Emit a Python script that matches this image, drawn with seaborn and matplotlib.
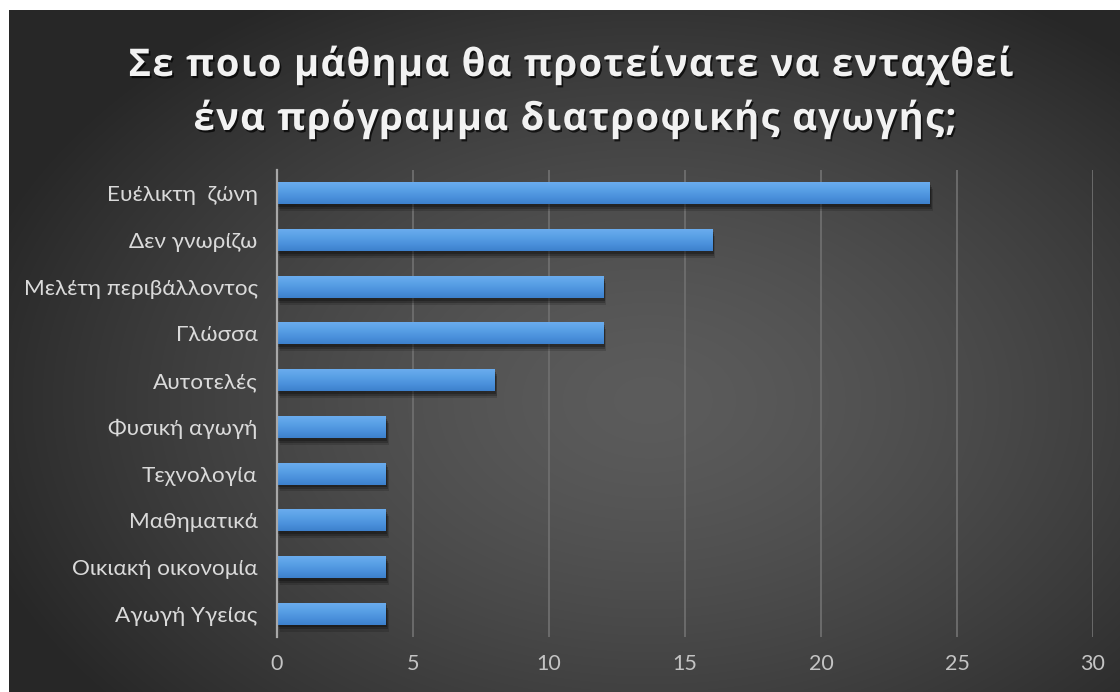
import numpy as np
import pandas as pd
import matplotlib
matplotlib.use("Agg")
import matplotlib.pyplot as plt
import matplotlib.patheffects as pe
from matplotlib.colors import LinearSegmentedColormap
from matplotlib.font_manager import FontProperties
import seaborn as sns

# Survey answers: which school subject should host a nutrition-education programme
subjects = [
    "Ευέλικτη  ζώνη",
    "Δεν γνωρίζω",
    "Μελέτη περιβάλλοντος",
    "Γλώσσα",
    "Αυτοτελές",
    "Φυσική αγωγή",
    "Τεχνολογία",
    "Μαθηματικά",
    "Οικιακή οικονομία",
    "Αγωγή Υγείας",
]
responses = [24, 16, 12, 12, 8, 4, 4, 4, 4, 4]
x_ticks = [0, 5, 10, 15, 20, 25, 30]
title_lines = [
    "Σε ποιο μάθημα θα προτείνατε να ενταχθεί",
    "ένα πρόγραμμα διατροφικής αγωγής;",
]

W, H = 1120, 692
DPI = 100

sns.set_theme(style="dark")
plt.rcParams["font.family"] = ["Lato", "DejaVu Sans"]

fig = plt.figure(figsize=(W / DPI, H / DPI), dpi=DPI, facecolor="white")

# Dark backdrop with a soft radial glow behind the plot area
bg_ax = fig.add_axes([9 / W, 0, 1 - 9 / W, 1 - 10 / H])
bg_ax.set_axis_off()
yy, xx = np.mgrid[0:H - 10, 0:W - 9]
cx, cy = 640, 390
rx, ry = 700, 470
r = np.sqrt(((xx - cx) / rx) ** 2 + ((yy - cy) / ry) ** 2)
r = np.clip(r, 0, 1)
center_v, edge_v = 0.36, 0.155
v = edge_v + (center_v - edge_v) * (1 - r ** 1.4)
bg_ax.imshow(np.dstack([v, v, v]), aspect="auto", extent=(0, 1, 0, 1),
             origin="upper", interpolation="bilinear")
bg_ax.set_xlim(0, 1)
bg_ax.set_ylim(0, 1)

ax = fig.add_axes([277 / W, 1 - 637 / H, (1093 - 277) / W, (637 - 170) / H])
ax.patch.set_alpha(0)

df = pd.DataFrame({"subject": subjects, "count": responses})
sns.barplot(data=df, x="count", y="subject", orient="h", color="#4a92dd",
            width=0.47, ax=ax, saturation=1, zorder=3)

ax.set_xlim(0, 30)
ax.set_ylim(len(subjects) - 0.5, -0.5)
ax.set_xticks(x_ticks)
ax.set_xticklabels([str(t) for t in x_ticks])
ax.set_xlabel("")
ax.set_ylabel("")

# Vertical gridlines
ax.grid(False)
for t in x_ticks[1:]:
    ax.axvline(t, color="#6e6e6e", lw=1.3, zorder=1)

for s in ["top", "right", "bottom"]:
    ax.spines[s].set_visible(False)
ax.spines["left"].set_color("#a8a8a8")
ax.spines["left"].set_linewidth(1.6)
ax.spines["left"].set_zorder(5)

ax.tick_params(axis="y", length=0, pad=14, labelsize=16.2, labelcolor="#dadada")
ax.tick_params(axis="x", length=0, pad=12, labelsize=15.5, labelcolor="#c4c4c4")

# Gradient fill and soft drop shadow on each bar
bar_cmap = LinearSegmentedColormap.from_list(
    "bar", ["#6aacee", "#5aa1e6", "#4b91dc", "#3d81cd"])
grad = np.linspace(0, 1, 64).reshape(-1, 1)
shadow = [
    pe.SimplePatchShadow(offset=(1.0, -2.0), shadow_rgbFace="black", alpha=0.25),
    pe.SimplePatchShadow(offset=(1.5, -3.5), shadow_rgbFace="black", alpha=0.22),
    pe.SimplePatchShadow(offset=(2.0, -5.0), shadow_rgbFace="black", alpha=0.15),
    pe.Normal(),
]
for p in list(ax.patches):
    p.set_edgecolor("none")
    p.set_path_effects(shadow)
    x0, y0 = p.get_x(), p.get_y()
    w, h = p.get_width(), p.get_height()
    im = ax.imshow(grad, cmap=bar_cmap, aspect="auto",
                   extent=(x0, x0 + w, y0 + h, y0), origin="upper",
                   interpolation="bilinear", zorder=4)
    im.set_clip_path(p)
ax.set_xlim(0, 30)
ax.set_ylim(len(subjects) - 0.5, -0.5)

# Letter-spaced title drawn glyph by glyph
renderer = fig.canvas.get_renderer()
tprop = FontProperties(family="Open Sans", weight="bold", size=27.5)


def text_w(s):
    w, _, _ = renderer.get_text_width_height_descent(s, tprop, ismath=False)
    return w


def tracked_title(line, baseline_px, tracking_px, center_px):
    bar_w = text_w("|")
    starts = [text_w(line[:i] + "|") - bar_w for i in range(len(line))]
    total = text_w(line + "|") - bar_w + tracking_px * (len(line) - 1)
    left = center_px - total / 2
    for i, ch in enumerate(line):
        if ch == " ":
            continue
        xp = left + starts[i] + tracking_px * i
        fig.text(xp / W, 1 - baseline_px / H, ch, fontproperties=tprop,
                 color="#f2f2f2", ha="left", va="baseline",
                 path_effects=[pe.withSimplePatchShadow(offset=(1.2, -1.6),
                                                        shadow_rgbFace="black",
                                                        alpha=0.7)])


tracked_title(title_lines[0], 76, 1.3, 571)
tracked_title(title_lines[1], 130, 1.3, 575)

fig.savefig("out.png", dpi=DPI, facecolor=fig.get_facecolor())
